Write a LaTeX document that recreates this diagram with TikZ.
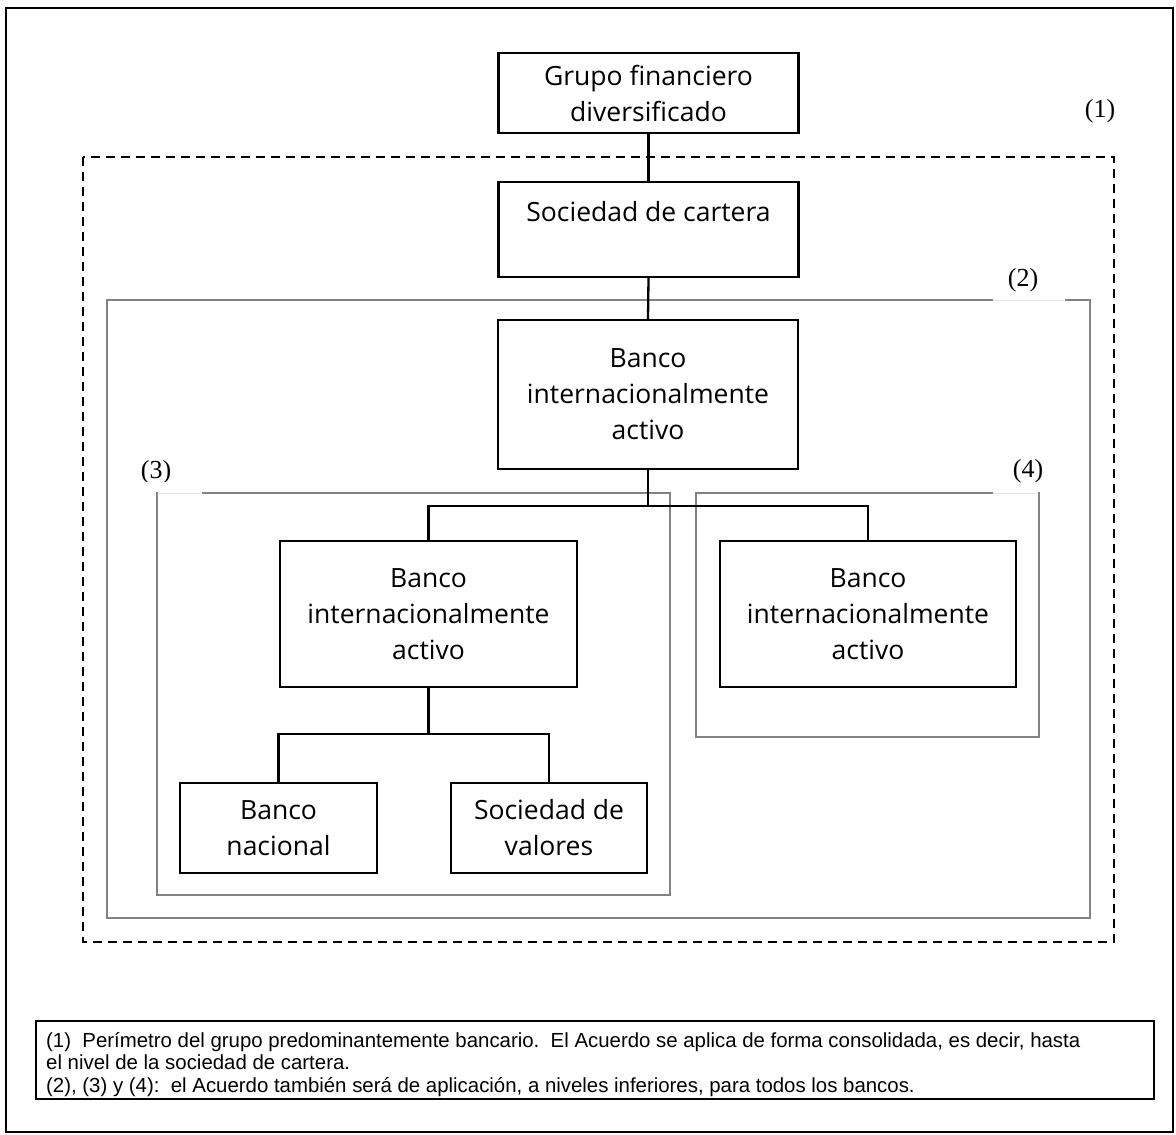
\documentclass[tikz,border=0pt]{standalone}
\usepackage{fontspec}
\setmainfont{Liberation Serif}
\newfontfamily\boxfont{Open Sans}
\newfontfamily\notefont{Liberation Sans}
\definecolor{zonegray}{HTML}{828282}
\definecolor{gapgray}{HTML}{E6E6E6}
\begin{document}
\begin{tikzpicture}[x=1pt,y=-1pt,
  entity/.style={draw=black, line width=2.3pt, fill=white, inner sep=0pt,
    align=center, font=\boxfont\fontsize{26.5}{36}\selectfont},
  link/.style={draw=black, line width=2.3pt},
  zone/.style={draw=zonegray, line width=2.3pt},
  perimeter/.style={draw=black, line width=2.3pt, dash pattern=on 9pt off 6pt},
  tag/.style={font=\fontsize{26}{28}\selectfont, inner sep=0pt},
  gapline/.style={draw=white, line width=3.5pt},
  faint/.style={draw=gapgray, line width=1pt}
]
\useasboundingbox (0,0) rectangle (1176,1135);
\clip (0,0) rectangle (1176,1135);

% page frame
\draw[black, line width=2.3pt] (6,8) rectangle (1173,1132);

% nested perimeters
\draw[perimeter] (83,157) rectangle (1114,942);
\draw[zone] (107,300) rectangle (1090,918);
\draw[zone] (157,493) rectangle (670,895);
\draw[zone] (696,493) rectangle (1039,737);

% openings in the zone outlines under the numbers
\draw[gapline] (993,300) -- (1065,300);
\draw[faint]   (993,300) -- (1065,300);
\draw[gapline] (158,493) -- (202,493);
\draw[faint]   (158,493) -- (202,493);
\draw[gapline] (993,493) -- (1038,493);
\draw[faint]   (993,493) -- (1038,493);

% zone numbers
\node[tag] (n1) at (1100,111) {(1)};
\node[tag] (n2) at (1023,280) {(2)};
\begin{scope}
  \clip (120,440) rectangle (210,481);
  \node[tag] (n3) at (156,472) {(3)};
\end{scope}
\node[tag] (n4) at (1028,471) {(4)};

% entities
\node[entity, minimum width=300pt, minimum height=80pt] (grupo) at (648.5,93)
  {Grupo financiero\\diversificado};
\node[entity, minimum width=300pt, minimum height=95pt] (cartera) at (648.5,229.5)
  {Sociedad de cartera\\\mbox{}};
\node[entity, minimum width=300pt, minimum height=149pt] (bint) at (648,394.5)
  {Banco\\internacionalmente\\activo};
\node[entity, minimum width=297pt, minimum height=146pt] (bleft) at (428.5,614)
  {Banco\\internacionalmente\\activo};
\node[entity, minimum width=296pt, minimum height=146pt] (bright) at (868,614)
  {Banco\\internacionalmente\\activo};
\node[entity, minimum width=197pt, minimum height=90pt] (bnac) at (278.5,828)
  {Banco\\nacional};
\node[entity, minimum width=196pt, minimum height=90pt] (sval) at (549,828)
  {Sociedad de\\valores};

% connectors
\coordinate (j1) at (648,506);
\coordinate (j2) at (428.5,734);
\draw[link] (grupo.south) -- (cartera.north);
\draw[link] (cartera.south) -- (bint.north);
\draw[link] (bint.south) -- (j1);
\draw[link] (bleft.north) |- (j1) -| (bright.north);
\draw[link] (bleft.south) -- (j2);
\draw[link] (bnac.north) |- (j2) -| (sval.north);

% note
\node[draw=black, line width=2pt, minimum width=1118pt, minimum height=78pt,
  anchor=north west, inner sep=0pt] (notebox) at (35,1020) {};
\node[anchor=north west, inner sep=0pt, align=left,
  font=\notefont\fontsize{20.4}{22.5}\selectfont] (notetext) at (46,1032)
  {(1)\ \ Perímetro del grupo predominantemente bancario.\ \ El Acuerdo se aplica de forma consolidada, es decir, hasta\\
   el nivel de la sociedad de cartera.\\
   (2), (3) y (4):\ \ el Acuerdo también será de aplicación, a niveles inferiores, para todos los bancos.};
\end{tikzpicture}
\end{document}
